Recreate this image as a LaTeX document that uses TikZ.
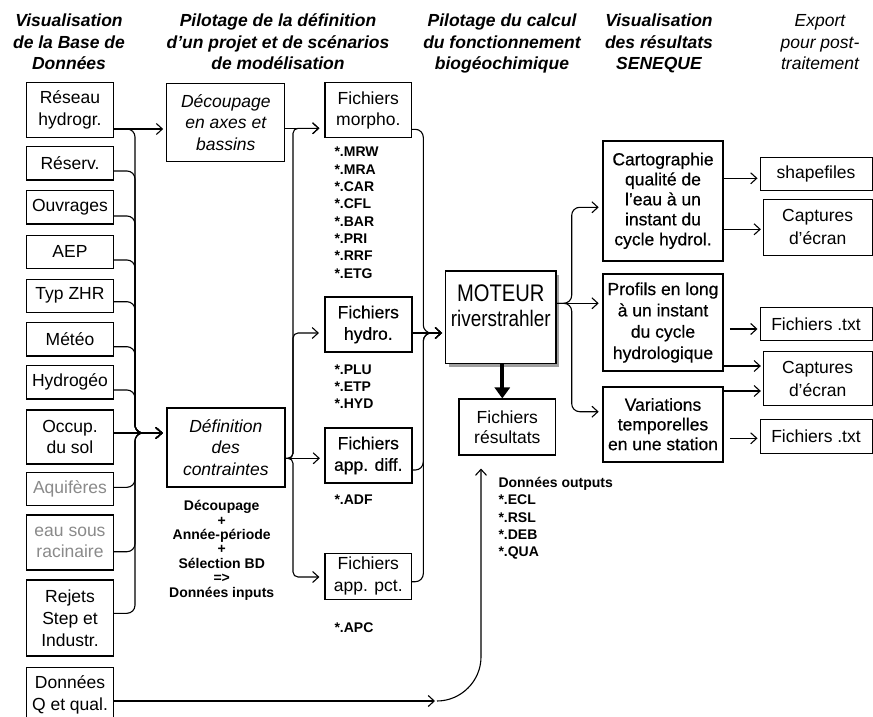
\documentclass[tikz,border=0pt]{standalone}
\usepackage{fontspec}
\setmainfont{Liberation Sans}
\newfontfamily\narrowfont[FakeStretch=0.84]{Liberation Sans}
\newfontfamily\heavyfont[FakeBold=0.45]{Liberation Sans}
\usetikzlibrary{arrows.meta,shadows,calc}
\definecolor{greytxt}{HTML}{8A8A8A}
\tikzset{
  box/.style={draw, line width=1.1pt, align=center, inner sep=0pt, fill=white,
    font=\fontsize{17.5}{21.5}\selectfont},
  lbox/.style={box, minimum width=86.6pt},
  thickbox/.style={box, line width=2pt, font=\fontsize{17.5}{21.5}\heavyfont},
  xbox/.style={box, line width=1pt},
  hdr/.style={font=\fontsize{17.5}{21.7}\selectfont\bfseries\itshape, anchor=base, inner sep=0pt},
  hdrr/.style={font=\fontsize{17.5}{21.7}\selectfont\itshape, anchor=base, inner sep=0pt},
  flbl/.style={font=\fontsize{14}{14}\selectfont\bfseries, anchor=base west, inner sep=0pt},
  nlbl/.style={font=\fontsize{14}{14}\selectfont\bfseries, anchor=base, inner sep=0pt},
  arr/.style={line width=1.1pt, -{Straight Barb[length=6pt,width=11pt]}},
  conn/.style={arr, rounded corners=8pt},
  conns/.style={arr, rounded corners=5pt},
}
\begin{document}
\begin{tikzpicture}[x=1pt,y=-1pt]
\useasboundingbox (0,0) rectangle (873,717);

% headers
\node[hdr] (h1a) at (69,26.7) {Visualisation};
\node[hdr] (h1b) at (69,48.3) {de la Base de};
\node[hdr] (h1c) at (69,70) {Données};
\node[hdr] (h2a) at (278,26.7) {Pilotage de la définition};
\node[hdr] (h2b) at (278,48.3) {d’un projet et de scénarios};
\node[hdr] (h2c) at (278,70) {de modélisation};
\node[hdr] (h3a) at (502,26.7) {Pilotage du calcul};
\node[hdr] (h3b) at (502,48.3) {du fonctionnement};
\node[hdr] (h3c) at (502,70) {biogéochimique};
\node[hdr] (h4a) at (659,26.7) {Visualisation};
\node[hdr] (h4b) at (659,48.3) {des résultats};
\node[hdr] (h4c) at (659,70) {SENEQUE};
\node[hdrr] (h5a) at (820,26.7) {Export};
\node[hdrr] (h5b) at (820,48.3) {pour post-};
\node[hdrr] (h5c) at (820,70) {traitement};

% left column
\node[lbox, minimum height=54.6pt] (res) at (70,110) {Réseau\\hydrogr.};
\node[lbox, minimum height=33.3pt] (rsv) at (70,163.3) {Réserv.};
\node[lbox, minimum height=33.3pt] (ouv) at (70,207.3) {Ouvrages};
\node[lbox, minimum height=33.3pt] (aep) at (70,251.7) {AEP};
\node[lbox, minimum height=33.3pt] (zhr) at (70,295.7) {Typ ZHR};
\node[lbox, minimum height=33.3pt] (met) at (70,339.3) {Météo};
\node[lbox, minimum height=33.3pt] (hyg) at (70,382.3) {Hydrogéo};
\node[lbox, minimum height=54pt] (occ) at (70,437) {Occup.\\du sol};
\node[lbox, minimum height=32.7pt, text=greytxt] (aqu) at (70,488.7) {Aquifères};
\node[lbox, minimum height=55pt, text=greytxt] (eau) at (70,542.5) {eau sous\\racinaire};
\node[lbox, minimum height=76pt, font=\fontsize{17.5}{22}\selectfont] (rej) at (70,618) {Rejets\\Step et\\Industr.};
\node[lbox, minimum height=55pt] (dq) at (70,695) {Données\\Q et qual.};

% second column
\node[box, line width=1pt, minimum width=118.3pt, minimum height=78.4pt, font=\fontsize{17.5}{21.7}\selectfont\itshape] (dec) at (225.8,122.5) {Découpage\\en axes et\\bassins};
\node[box, line width=2pt, minimum width=118.3pt, minimum height=79pt, font=\fontsize{17.5}{21.5}\selectfont\itshape] (def) at (225.8,447.2) {Définition\\des\\contraintes};
\foreach \t [count=\i from 0] in {Découpage,+,Année-période,+,Sélection BD,=>,Données inputs}
  \node[nlbl] (n\i) at (221.7,{510.7+14.43*\i}) {\t};

% files column
\node[box, minimum width=86.7pt, minimum height=54.7pt] (fmo) at (368.3,110.3) {Fichiers\\morpho.};
\node[thickbox, minimum width=86.7pt, minimum height=54.4pt] (fhy) at (368.3,324.5) {Fichiers\\hydro.};
\node[thickbox, minimum width=86.7pt, minimum height=54.4pt] (fad) at (368.3,455.5) {Fichiers\\app. diff.};
\node[box, minimum width=86.7pt, minimum height=45.7pt] (fap) at (368.3,576.2) {Fichiers\\app. pct.};
\foreach \t [count=\i from 0] in {MRW,MRA,CAR,CFL,BAR,PRI,RRF,ETG}
  \node[flbl] (m\i) at (334.3,{156.7+17.33*\i}) {*.\t};
\foreach \t [count=\i from 0] in {PLU,ETP,HYD}
  \node[flbl] (h\i) at (334.3,{374+17.33*\i}) {*.\t};
\node[flbl] (adf) at (334.3,504) {*.ADF};
\node[flbl] (apc) at (334.3,632.3) {*.APC};

% engine
\node[box, line width=1.3pt, minimum width=110.3pt, minimum height=92.3pt,
  drop shadow={shadow xshift=3.5pt, shadow yshift=-3.5pt, fill=gray!75, opacity=1}] (mot) at (500.8,317.2) {};
\node[anchor=base, inner sep=0pt, font=\fontsize{24}{24}\narrowfont] (motT) at (500.8,301.7) {MOTEUR};
\node[anchor=base, inner sep=0pt, font=\fontsize{22.5}{24}\narrowfont] (motR) at (500.8,326.7) {riverstrahler};
\node[box, minimum width=96.7pt, minimum height=56pt, font=\fontsize{17.5}{20.5}\selectfont] (resu) at (507.3,427) {Fichiers\\résultats};
\node[flbl] (dout) at (498.3,487.3) {Données outputs};
\foreach \t [count=\i from 1] in {ECL,RSL,DEB,QUA}
  \node[flbl] (o\i) at (498.3,{487.3+17.35*\i}) {*.\t};

% results visualisation
\node[thickbox, minimum width=120.6pt, minimum height=119.7pt, font=\fontsize{17.5}{20}\heavyfont] (car) at (663,200.8) {Cartographie\\qualité de\\l’eau à un\\instant du\\cycle hydrol.};
\node[thickbox, minimum width=120.6pt, minimum height=97pt, font=\fontsize{17.5}{21.3}\heavyfont] (pro) at (663,322.5) {Profils en long\\à un instant\\du cycle\\hydrologique};
\node[thickbox, minimum width=120.6pt, minimum height=75pt, font=\fontsize{17.5}{19.7}\heavyfont] (var) at (663,424.2) {Variations\\temporelles\\en une station};

% export
\node[xbox, minimum width=112pt, minimum height=33.3pt] (shp) at (816,174.3) {shapefiles};
\node[xbox, minimum width=108.7pt, minimum height=55.7pt, font=\fontsize{17.5}{22.5}\selectfont] (cap1) at (817.7,227.2) {Captures\\d’écran};
\node[xbox, minimum width=112pt, minimum height=33.3pt] (tx1) at (816,324.3) {Fichiers .txt};
\node[xbox, minimum width=108.7pt, minimum height=54.3pt, font=\fontsize{17.5}{22.5}\selectfont] (cap2) at (817.7,378.8) {Captures\\d’écran};
\node[xbox, minimum width=112pt, minimum height=34pt] (tx2) at (816,436.3) {Fichiers .txt};

% ---- connectors ----
% left bus into Definition
\coordinate (bL) at (135,433);
\draw[arr, shorten >=3pt] (res.east |- 0,129) -- (dec.west |- 0,129);
\foreach \n/\y in {res/129, rsv/171, ouv/216, aep/260, zhr/301.7, met/346.7, hyg/390, aqu/487.3, eau/551.7, rej/613.3}
  \draw[conn, shorten >=3pt] (\n.east |- 0,\y) -| (bL) -- (def.west |- bL);
\draw[arr, shorten >=3pt] (occ.east |- bL) -- (def.west |- bL);

% Definition brace to files
\coordinate (dO) at (def.east |- 0,458.3);
\coordinate (b2) at (293,458.3);
\draw[arr, shorten >=5pt] (dec.east |- 0,128.3) -- (fmo.west |- 0,128.3);
\draw[conns, shorten >=5pt] (dO) -- (b2) |- (fmo.west |- 0,128.3);
\draw[conns, shorten >=5pt] (dO) -- (b2) |- (fhy.west |- 0,333);
\draw[arr, shorten >=4pt] (dO) -- (fad.west |- dO);
\draw[conns, shorten >=5pt] (dO) -- (b2) |- (fap.west |- 0,577);

% files to engine
\coordinate (b3) at (423.3,333);
\draw[conn, shorten >=3pt] (fmo.east |- 0,129.3) -| (b3) -- (mot.west |- b3);
\draw[arr, shorten >=3pt] (fhy.east |- b3) -- (mot.west |- b3);
\draw[conn, shorten >=3pt] (fad.east |- 0,470) -| (b3) -- (mot.west |- b3);
\draw[conn, shorten >=3pt] (fap.east |- 0,581.7) -| (b3) -- (mot.west |- b3);

% engine to results
\draw[line width=4pt, -{Triangle[length=11pt,width=15pt]}] (mot.south -| 502.3,0) -- (resu.north -| 502.3,0);

% engine brace to visualisation
\coordinate (mO) at (mot.east |- 0,303.3);
\coordinate (b4) at (571.7,303.3);
\draw[conn, shorten >=3pt] (mO) -- (b4) |- (car.west |- 0,207.3);
\draw[arr, shorten >=3pt] (mO) -- (pro.west |- mO);
\draw[conn, shorten >=3pt] (mO) -- (b4) |- (var.west |- 0,411.7);

% visualisation to export
\coordinate (p1) at ($(pro.east |- 0,329)+(5.6,0)$);
\coordinate (p2) at ($(var.east |- 0,438.3)+(5.6,0)$);
\draw[arr, shorten >=2pt] (car.east |- 0,178.3) -- (shp.west |- 0,178.3);
\draw[arr, shorten >=2pt] (car.east |- 0,229.3) -- (cap1.west |- 0,229.3);
\draw[arr, shorten >=2pt] (p1) -- (tx1.west |- p1);
\draw[arr, shorten >=2pt] (pro.east |- 0,366) -- (cap2.west |- 0,366);
\draw[arr, shorten >=2pt] (var.east |- 0,391) -- (cap2.west |- 0,391);
\draw[arr, shorten >=2pt] (p2) -- (tx2.west |- p2);

% Q data to results
\coordinate (q1) at (435,701);
\coordinate (q2) at (437,701);
\coordinate (q3) at (481,657);
\draw[arr] (dq.east |- q1) -- (q1);
\draw[arr, shorten >=13pt] (q2) .. controls (461,701) and (481,681) .. (q3) -- (resu.south -| q3);
\end{tikzpicture}
\end{document}
